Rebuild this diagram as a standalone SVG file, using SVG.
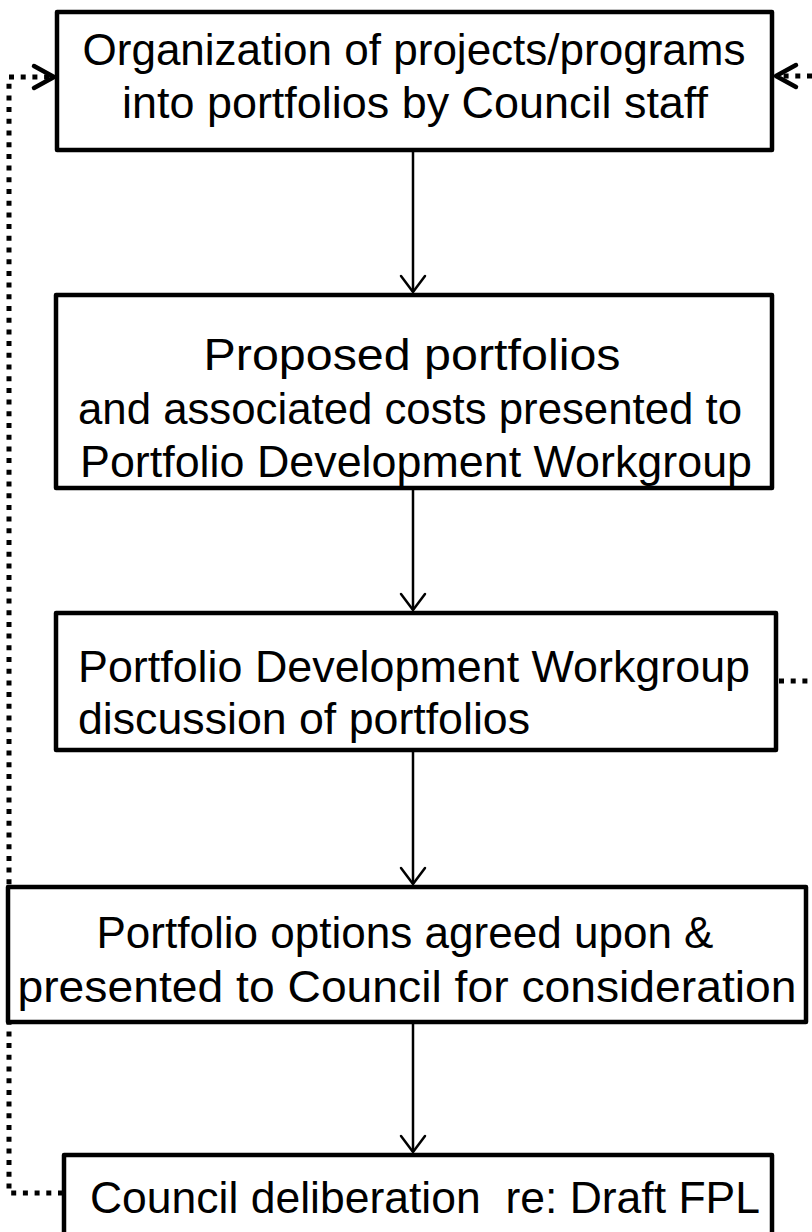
<svg xmlns="http://www.w3.org/2000/svg" width="812" height="1232" viewBox="0 0 812 1232">
<defs>
<style>
.box{fill:#fff;stroke:#000;stroke-width:4.5;stroke-linejoin:round}
.t{font-family:"Liberation Sans",Arial,sans-serif;font-size:45px;fill:#000}
.c{text-anchor:middle}
.flow{fill:none;stroke:#000;stroke-width:2.5}
.dot{fill:none;stroke:#000;stroke-width:5;stroke-dasharray:5 6.7}
.ah{fill:none;stroke:#000;stroke-width:2.5;stroke-linecap:round;stroke-linejoin:round}
.ahd{fill:none;stroke:#000;stroke-width:4.5;stroke-linecap:round;stroke-linejoin:round}
</style>
</defs>
<rect width="812" height="1232" fill="#fff"/>
<g id="connectors">
<line class="flow" x1="413" y1="150" x2="413" y2="292"/>
<polyline class="ah" points="401,276 413,292 425,276"/>
<line class="flow" x1="413" y1="488" x2="413" y2="610"/>
<polyline class="ah" points="401,594 413,610 425,594"/>
<line class="flow" x1="413" y1="750" x2="413" y2="884"/>
<polyline class="ah" points="401,868 413,884 425,868"/>
<line class="flow" x1="413" y1="1022" x2="413" y2="1152"/>
<polyline class="ah" points="401,1136 413,1152 425,1136"/>
<polyline class="dot" points="63,1193 9,1193 9,77 52,77"/>
<polyline class="ahd" points="34,66 54,77 34,88"/>
<line class="dot" x1="812" y1="76" x2="780" y2="76"/>
<polyline class="ahd" points="796,65 776,76 796,87"/>
<line class="dot" x1="779" y1="681" x2="812" y2="681"/>
</g>
<g id="node1">
<rect class="box" x="57" y="12" width="715" height="138"/>
<text class="t c" x="414" y="65" textLength="663" lengthAdjust="spacingAndGlyphs">Organization of projects/programs</text>
<text class="t c" x="415" y="118" textLength="586" lengthAdjust="spacingAndGlyphs">into portfolios by Council staff</text>
</g>
<g id="node2">
<rect class="box" x="56" y="295" width="716" height="193"/>
<text class="t c" x="412" y="370" textLength="417" lengthAdjust="spacingAndGlyphs">Proposed portfolios</text>
<text class="t c" x="410" y="424" textLength="664" lengthAdjust="spacingAndGlyphs">and associated costs presented to</text>
<text class="t c" x="416" y="477" textLength="672" lengthAdjust="spacingAndGlyphs">Portfolio Development Workgroup</text>
</g>
<g id="node3">
<rect class="box" x="56" y="613" width="720" height="137"/>
<text class="t" x="78" y="682" textLength="672" lengthAdjust="spacingAndGlyphs">Portfolio Development Workgroup</text>
<text class="t" x="78" y="734" textLength="452" lengthAdjust="spacingAndGlyphs">discussion of portfolios</text>
</g>
<g id="node4">
<rect class="box" x="8" y="887" width="798" height="135"/>
<text class="t c" x="405" y="948" textLength="617" lengthAdjust="spacingAndGlyphs">Portfolio options agreed upon &amp;</text>
<text class="t c" x="407" y="1002" textLength="779" lengthAdjust="spacingAndGlyphs">presented to Council for consideration</text>
</g>
<g id="node5">
<rect class="box" x="64" y="1155" width="708" height="90"/>
<text class="t c" x="425" y="1213" textLength="670" lengthAdjust="spacingAndGlyphs" xml:space="preserve">Council deliberation  re: Draft FPL</text>
</g>
</svg>
